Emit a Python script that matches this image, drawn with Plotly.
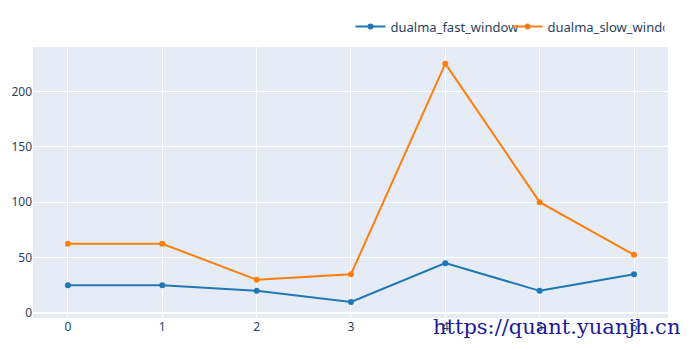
import plotly.graph_objects as go

x_vals = [0, 1, 2, 3, 4, 5, 6]
fast_window = [25, 25, 20, 10, 45, 20, 35]
slow_window = [62.5, 62.5, 30, 35, 225, 100, 52.5]

fig = go.Figure()
fig.add_trace(go.Scatter(x=x_vals, y=fast_window, mode="lines+markers",
                         name="dualma_fast_window",
                         line=dict(color="#1f77b4", width=2), marker=dict(size=6)))
fig.add_trace(go.Scatter(x=x_vals, y=slow_window, mode="lines+markers",
                         name="dualma_slow_window",
                         line=dict(color="#ff7f0e", width=2), marker=dict(size=6)))

fig.update_layout(
    width=700, height=350,
    template="plotly",
    font=dict(family="Noto Sans", size=12, color="#2a3f5f"),
    margin=dict(l=33, r=32, t=45, b=32),
    legend=dict(orientation="h", x=0.5, xanchor="left", y=1.02, yanchor="bottom",
                font=dict(size=13), entrywidth=112, entrywidthmode="pixels"),
    xaxis=dict(range=[-0.37, 6.36], tickmode="linear", dtick=1, zeroline=False),
    yaxis=dict(range=[-4.5, 240], dtick=50),
    annotations=[dict(text="https://quant.yuanjh.cn", xref="paper", yref="paper",
                      x=0.626, y=-0.035, xanchor="left", yanchor="middle",
                      showarrow=False,
                      font=dict(family="DejaVu Serif", size=21, color="#1a1a9a"))],
)

fig.write_html("out.html")
